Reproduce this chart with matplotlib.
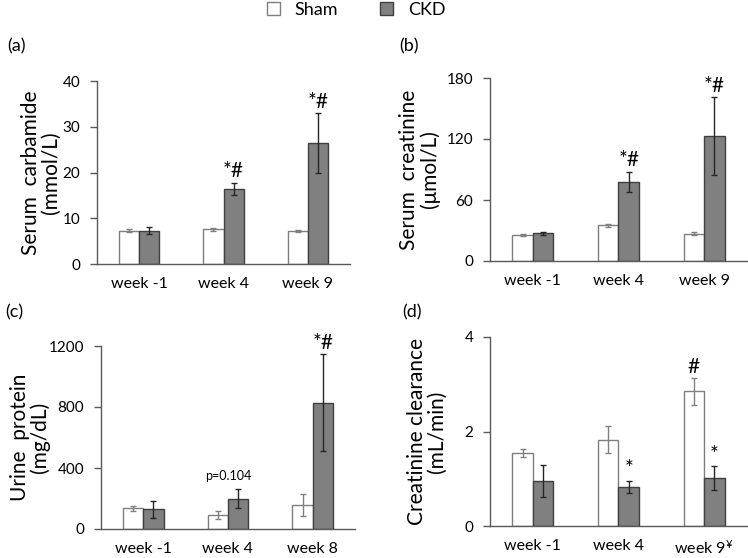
"""
Four-panel bar chart: Sham vs CKD renal markers over time.
"""
import matplotlib
matplotlib.use("Agg")
import matplotlib.pyplot as plt
import numpy as np

plt.rcParams['font.family'] = ['Lato', 'DejaVu Sans']
plt.rcParams['mathtext.default'] = 'regular'

W, H = 748, 558
fig = plt.figure(figsize=(W / 100, H / 100), dpi=100)

SHAM_FC = 'white'; SHAM_EC = '#7f7f7f'; SHAM_ERR = '#808080'
CKD_FC = '#808080'; CKD_EC = '#404040'; CKD_ERR = '#262626'
AXC = '#595959'; TXT = '#000000'

# ---- data ----
weeks_ab = ['week -1', 'week 4', 'week 9']
weeks_c = ['week -1', 'week 4', 'week 8']
weeks_d = ['week -1', 'week 4', 'week 9$^{¥}$']

urea_sham = [7.3, 7.6, 7.2]
urea_sham_err = [0.3, 0.3, 0.3]
urea_ckd = [7.3, 16.4, 26.4]
urea_ckd_err = [0.7, 1.4, 6.5]

crea_sham = [25.3, 35.0, 27.0]
crea_sham_err = [1.2, 1.5, 1.3]
crea_ckd = [27.2, 77.7, 123.0]
crea_ckd_err = [1.5, 10.3, 38.0]

prot_sham = [135, 93, 159]
prot_sham_err = [17, 28, 72]
prot_ckd = [130, 198, 827]
prot_ckd_err = [55, 62, 318]

ccl_sham = [1.54, 1.83, 2.85]
ccl_sham_err = [0.09, 0.28, 0.28]
ccl_ckd = [0.95, 0.83, 1.01]
ccl_ckd_err = [0.34, 0.13, 0.25]


def px_axes(l, t, r, b):
    return fig.add_axes([l / W, (H - b) / H, (r - l) / W, (b - t) / H])


def panel(ax, labels, s, se, c, ce, ylim, yticks, ylabel, ylab_x):
    x = np.arange(len(labels))
    bw = 0.24
    bs = ax.bar(x - bw / 2, s, bw, color=SHAM_FC, edgecolor=SHAM_EC, lw=1, zorder=2)
    bc = ax.bar(x + bw / 2, c, bw, color=CKD_FC, edgecolor=CKD_EC, lw=1, zorder=2)
    ax.errorbar(x - bw / 2, s, yerr=se, fmt='none', ecolor=SHAM_ERR, elinewidth=1,
                capsize=2.3, capthick=1, zorder=3)
    ax.errorbar(x + bw / 2, c, yerr=ce, fmt='none', ecolor=CKD_ERR, elinewidth=1,
                capsize=2.3, capthick=1, zorder=3)
    ax.set_xlim(-0.5, 2.5)
    ax.set_ylim(*ylim)
    ax.set_yticks(yticks)
    ax.set_xticks(x)
    ax.set_xticklabels(labels, fontsize=11.5, color=TXT)
    ax.tick_params(axis='x', length=0, pad=9.5)
    ax.tick_params(axis='y', length=5, width=1, color=AXC, pad=7, labelsize=11,
                   labelcolor=TXT)
    for sp in ['top', 'right']:
        ax.spines[sp].set_visible(False)
    for sp in ['left', 'bottom']:
        ax.spines[sp].set_color(AXC)
        ax.spines[sp].set_linewidth(1)
    ax.set_ylabel(ylabel, fontsize=15, color=TXT, va='center', linespacing=1.0)
    ax.yaxis.set_label_coords(ylab_x, 0.5)
    return x, bs, bc


def mark(ax, xx, y, s, fs=15):
    ax.annotate(s, (xx, y), xytext=(0, 1), textcoords='offset points',
                ha='center', va='bottom', fontsize=fs, color=TXT)


bw = 0.24

# (a) serum carbamide
ax_a = px_axes(97, 81, 350, 264)
x, bs, bc = panel(ax_a, weeks_ab, urea_sham, urea_sham_err, urea_ckd, urea_ckd_err,
                  (0, 40), [0, 10, 20, 30, 40], 'Serum  carbamide\n(mmol/L)', -0.22)
for i in [1, 2]:
    mark(ax_a, x[i] + bw / 2, urea_ckd[i] + urea_ckd_err[i], '*#')

# (b) serum creatinine
ax_b = px_axes(490, 78, 747, 261)
x, _, _ = panel(ax_b, weeks_ab, crea_sham, crea_sham_err, crea_ckd, crea_ckd_err,
                (0, 180), [0, 60, 120, 180], 'Serum  creatinine\n(μmol/L)', -0.275)
for i in [1, 2]:
    mark(ax_b, x[i] + bw / 2, crea_ckd[i] + crea_ckd_err[i], '*#')

# (c) urine protein
ax_c = px_axes(101, 346, 355, 529)
x, _, _ = panel(ax_c, weeks_c, prot_sham, prot_sham_err, prot_ckd, prot_ckd_err,
                (0, 1200), [0, 400, 800, 1200], 'Urine  protein\n(mg/dL)', -0.28)
mark(ax_c, x[2] + bw / 2, prot_ckd[2] + prot_ckd_err[2], '*#')
mark(ax_c, x[1], prot_ckd[1] + prot_ckd_err[1] + 40, 'p=0.104', fs=9)

# (d) creatinine clearance
ax_d = px_axes(490, 337, 747, 526)
x, _, _ = panel(ax_d, weeks_d, ccl_sham, ccl_sham_err, ccl_ckd, ccl_ckd_err,
                (0, 4), [0, 2, 4], 'Creatinine clearance\n(mL/min)', -0.245)
for i in [1, 2]:
    mark(ax_d, x[i] + bw / 2, ccl_ckd[i] + ccl_ckd_err[i], '*')
mark(ax_d, x[2] - bw / 2, ccl_sham[2] + ccl_sham_err[2], '#')

# panel letters
for s, px, py in [('(a)', 7, 46), ('(b)', 399, 46), ('(c)', 5, 312), ('(d)', 402, 312)]:
    fig.text(px / W, 1 - py / H, s, fontsize=13, color=TXT, ha='left', va='center')

# legend
fig.legend([bs, bc], ['Sham', 'CKD'], loc='center', bbox_to_anchor=(356 / W, 1 - 10 / H),
           ncol=2, frameon=False, fontsize=13, handlelength=0.75, handleheight=0.75,
           handletextpad=0.8, columnspacing=2.3, borderpad=0, borderaxespad=0)

plt.savefig('out.png', dpi=100)
